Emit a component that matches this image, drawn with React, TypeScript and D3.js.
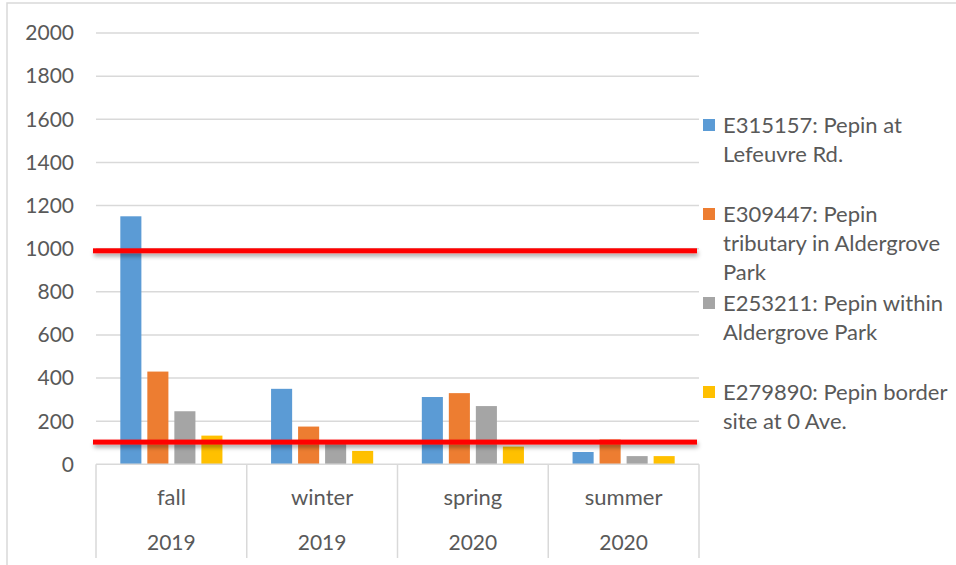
import React from "react";
import * as d3 from "d3";

const seasons = ["fall", "winter", "spring", "summer"];
const years = ["2019", "2019", "2020", "2020"];
const seriesNames = [
  "E315157: Pepin at Lefeuvre Rd.",
  "E309447: Pepin tributary in Aldergrove Park",
  "E253211: Pepin within Aldergrove Park",
  "E279890: Pepin border site at 0 Ave.",
];
const legendLines = [
  ["E315157: Pepin at", "Lefeuvre Rd."],
  ["E309447: Pepin", "tributary in Aldergrove", "Park"],
  ["E253211: Pepin within", "Aldergrove Park"],
  ["E279890: Pepin border", "site at 0 Ave."],
];
const colors = ["#5B9BD5", "#ED7D31", "#A5A5A5", "#FFC000"];
const valuesE315157 = [1150, 350, 312, 57];
const valuesE309447 = [430, 175, 330, 115];
const valuesE253211 = [246, 100, 270, 38];
const valuesE279890 = [133, 62, 82, 38];
const seriesValues = [valuesE315157, valuesE309447, valuesE253211, valuesE279890];
const yTicks = [0, 200, 400, 600, 800, 1000, 1200, 1400, 1600, 1800, 2000];
const thresholds = [990, 103];

const W = 956;
const H = 565;
const FONT = "Lato, 'Open Sans', sans-serif";
const TXT = "#595959";
const GRID = "#D9D9D9";

export default function App() {
  const x0 = d3.scaleBand<number>().domain(d3.range(seasons.length)).range([96, 699]);
  const x1 = d3
    .scaleBand<number>()
    .domain(d3.range(seriesNames.length))
    .range([0, x0.bandwidth()])
    .paddingInner(0.22)
    .paddingOuter(0.9);
  const y = d3.scaleLinear().domain([0, 2000]).range([464.3, 33]);
  const [xl, xr] = x0.range();

  return (
    <svg
      width={W}
      height={H}
      style={{ position: "absolute", left: 0, top: 0, background: "#fff" }}
      fontFamily={FONT}
    >
      <defs>
        <filter id="shadow" x="-5%" y="-100%" width="110%" height="400%">
          <feDropShadow dx="1" dy="3" stdDeviation="2" floodColor="#000" floodOpacity="0.35" />
        </filter>
      </defs>
      <rect x={7} y={3} width={W + 10} height={H + 10} fill="#fff" stroke={GRID} strokeWidth={1.5} />
      {/* gridlines */}
      {yTicks.filter((t) => t > 0).map((t) => (
        <line key={t} x1={xl} x2={xr} y1={y(t)} y2={y(t)} stroke={GRID} strokeWidth={1.5} />
      ))}
      {/* y tick labels */}
      {yTicks.map((t) => (
        <text key={t} x={74} y={y(t)} dy="0.35em" textAnchor="end" fontSize={21} fill={TXT}>
          {t}
        </text>
      ))}
      {/* bars */}
      {seriesValues.map((vals, si) =>
        vals.map((v, ci) => (
          <rect
            key={`${si}-${ci}`}
            x={(x0(ci) as number) + (x1(si) as number)}
            y={y(v)}
            width={x1.bandwidth()}
            height={y(0) - y(v)}
            fill={colors[si]}
          />
        ))
      )}
      {/* category axis */}
      <line x1={xl} x2={xr} y1={y(0)} y2={y(0)} stroke={GRID} strokeWidth={1.5} />
      {d3.range(seasons.length + 1).map((i) => {
        const xx = i < seasons.length ? (x0(i) as number) : xr;
        return <line key={i} x1={xx} x2={xx} y1={y(0)} y2={558} stroke={GRID} strokeWidth={1.5} />;
      })}
      {seasons.map((s, i) => (
        <g key={i}>
          <text x={(x0(i) as number) + x0.bandwidth() / 2} y={497} dy="0.35em" textAnchor="middle" fontSize={22} fill={TXT}>
            {s}
          </text>
          <text x={(x0(i) as number) + x0.bandwidth() / 2} y={543} dy="0.35em" textAnchor="middle" fontSize={21} fill={TXT}>
            {years[i]}
          </text>
        </g>
      ))}
      {/* threshold lines */}
      {thresholds.map((t, i) => (
        <rect
          key={i}
          x={xl - 3}
          width={xr - xl + 1}
          y={y(t) - 2.5}
          height={5}
          fill="#FF0000"
          filter="url(#shadow)"
        />
      ))}
      {/* legend */}
      {legendLines.map((lines, i) => {
        const cy = 125 + i * 89;
        return (
          <g key={i}>
            <rect x={703} y={cy - 6} width={12} height={12} fill={colors[i]} />
            {lines.map((ln, j) => (
              <text key={j} x={723} y={cy + j * 29.3} dy="0.35em" fontSize={22} fill={TXT}>
                {ln}
              </text>
            ))}
          </g>
        );
      })}
    </svg>
  );
}
